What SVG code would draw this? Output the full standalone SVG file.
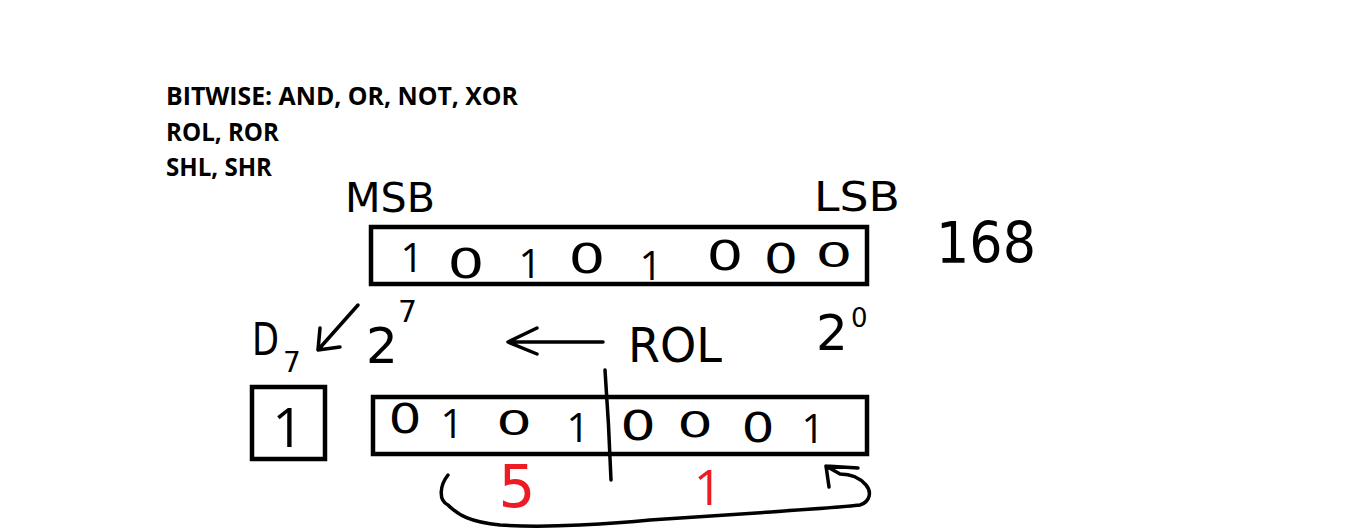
<svg xmlns="http://www.w3.org/2000/svg" width="1360" height="529" viewBox="0 0 1360 529">
<style>
.typed{font-family:"Open Sans","Liberation Sans",sans-serif;font-weight:bold;font-size:25px;fill:#000}
.hw{font-family:"DejaVu Sans","Liberation Sans",sans-serif;fill:#000}
.d{font-family:"DejaVu Sans","Liberation Sans",sans-serif;font-size:40px;fill:#000;text-anchor:middle}
.d1{font-family:"Open Sans","Roboto",sans-serif;font-size:40px;fill:#000;text-anchor:middle}
.red{font-family:"DejaVu Sans","Liberation Sans",sans-serif;fill:#ed1c24;text-anchor:middle}
.red1{font-family:"Open Sans","Roboto",sans-serif;fill:#ed1c24;text-anchor:middle}
.box{fill:none;stroke:#000;stroke-width:4.5}
.ln{fill:none;stroke:#000;stroke-width:3.5;stroke-linecap:round;stroke-linejoin:round}
</style>
<rect width="1360" height="529" fill="#fff"/>
<g id="title">
<text class="typed" x="166" y="105" textLength="352" lengthAdjust="spacingAndGlyphs">BITWISE: AND, OR, NOT, XOR</text>
<text class="typed" x="166" y="141" textLength="113" lengthAdjust="spacingAndGlyphs">ROL, ROR</text>
<text class="typed" x="166" y="176" textLength="106" lengthAdjust="spacingAndGlyphs">SHL, SHR</text>
</g>
<g id="msb-label"><text class="hw" x="345" y="212" font-size="40" textLength="90" lengthAdjust="spacingAndGlyphs">MSB</text></g>
<g id="lsb-label"><text class="hw" x="814" y="211" font-size="40" textLength="86" lengthAdjust="spacingAndGlyphs">LSB</text></g>
<g id="value-168"><text class="hw" x="936" y="263" font-size="57" textLength="100" lengthAdjust="spacingAndGlyphs">168</text></g>
<g id="register-original">
<rect class="box" x="371" y="227" width="496" height="57"/>
<text class="d1" x="412" y="272">1</text>
<text class="d" transform="translate(466 278) scale(1.45 1)">0</text>
<text class="d1" x="530" y="278">1</text>
<text class="d" transform="translate(587 273) scale(1.45 1)">0</text>
<text class="d1" x="651" y="280">1</text>
<text class="d" transform="translate(725 270) scale(1.45 1)">0</text>
<text class="d" transform="translate(781 273) scale(1.35 1)">0</text>
<text class="d" transform="translate(834 267) scale(1.45 0.85)">0</text>
</g>
<g id="label-d7">
<text class="hw" x="252" y="355" font-size="44" textLength="27" lengthAdjust="spacingAndGlyphs">D</text>
<text class="hw" x="283" y="372" font-size="28">7</text>
</g>
<g id="label-2-7">
<text class="hw" x="366" y="363" font-size="50">2</text>
<text class="hw" x="398" y="322" font-size="30">7</text>
</g>
<g id="label-rol"><text class="hw" x="628" y="362" font-size="48" textLength="94" lengthAdjust="spacingAndGlyphs">ROL</text></g>
<g id="label-2-0">
<text class="hw" x="816" y="350" font-size="50">2</text>
<text class="hw" x="851" y="327" font-size="26">0</text>
</g>
<g id="carry-box">
<rect class="box" x="252" y="387" width="73" height="72"/>
<text class="d1" x="288" y="447" style="font-size:55px">1</text>
</g>
<g id="register-rotated">
<rect class="box" x="373" y="397" width="494" height="57"/>
<text class="d" transform="translate(405 433) scale(1.3 1)">0</text>
<text class="d1" x="452" y="438">1</text>
<text class="d" transform="translate(514 435) scale(1.4 0.85)">0</text>
<text class="d1" x="578" y="442">1</text>
<text class="d" transform="translate(638 440) scale(1.4 1)">0</text>
<text class="d" transform="translate(695 437) scale(1.4 0.9)">0</text>
<text class="d" transform="translate(758 442) scale(1.3 1)">0</text>
<text class="d1" x="813" y="443">1</text>
</g>
<g id="nibble-values">
<text class="red" x="517" y="507" font-size="58">5</text>
<text class="red1" x="708" y="505" font-size="50">1</text>
</g>
<g id="connectors">
<path class="ln" d="M358 305 L318 350 M320 328 L318 350 L340 347"/>
<path class="ln" d="M603 342 L508 342 M537 328 L508 342 L537 354"/>
<path class="ln" d="M605 370 Q609 425 611 480"/>
<path class="ln" d="M448 475 C440 485 438 500 448 505 C458 515 470 522 500 525 C530 527 560 526 580 525 C620 523 640 521 650 520 C700 517 740 514 771 512 C810 509 845 507 860 505 C870 502 872 492 866 485 C860 478 852 474 840 474 L826 466 M826 466 L858 468 M826 466 L829 487"/>
</g>
</svg>
